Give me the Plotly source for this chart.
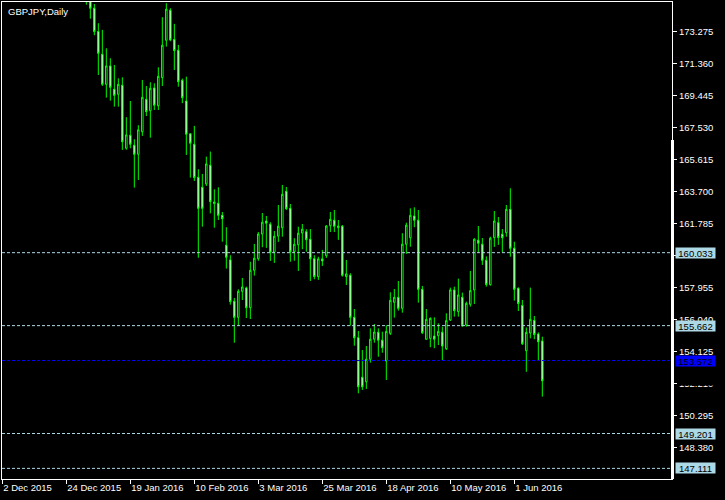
import plotly.graph_objects as go

# ---- data (daily GBPJPY bars, bar index counted from 2 Dec 2015) ----
bar_index = list(range(21, 136))
opens = [176.30, 175.60, 174.68, 173.28, 171.92, 170.12, 171.22, 169.82, 169.52, 170.06,
         166.29, 167.07, 166.47, 165.93, 167.28, 169.22, 168.54, 169.90, 168.84, 170.52,
         172.76, 174.56, 172.80, 172.16, 170.36, 169.12, 167.15, 166.53, 164.55, 163.95,
         164.15, 165.27, 162.97, 162.99, 162.27, 160.48, 159.60, 157.12, 156.16, 157.72,
         157.92, 156.74, 158.98, 159.67, 161.15, 161.93, 161.74, 160.06, 161.03, 161.53,
         163.71, 162.69, 160.09, 160.51, 161.21, 161.29, 160.84, 159.67, 158.60, 159.66,
         159.85, 161.65, 161.98, 161.53, 161.62, 158.60, 158.68, 156.16, 154.94, 152.57,
         152.30, 153.65, 154.85, 155.27, 154.79, 153.54, 155.20, 157.06, 157.36, 156.70,
         160.54, 160.93, 162.23, 161.98, 157.84, 154.85, 154.90, 155.04, 155.06, 155.27,
         154.28, 156.00, 157.80, 156.50, 157.36, 155.70, 156.94, 157.80, 160.78, 160.54,
         159.58, 158.12, 160.94, 161.83, 161.14, 161.23, 162.63, 160.30, 157.90, 156.87,
         154.16, 155.22, 155.97, 155.16, 154.74]
highs = [176.60, 175.90, 174.93, 173.78, 173.38, 172.28, 171.68, 171.28, 170.48, 170.54,
         168.15, 169.12, 166.83, 167.67, 170.38, 170.02, 170.24, 170.18, 171.14, 174.14,
         174.98, 174.68, 173.74, 172.48, 170.46, 170.58, 167.19, 167.63, 165.03, 164.75,
         165.79, 166.09, 163.83, 163.95, 162.47, 161.56, 159.88, 157.32, 157.84, 158.52,
         158.00, 159.49, 160.56, 161.27, 162.41, 162.23, 161.86, 161.33, 162.89, 164.09,
         163.97, 162.95, 160.90, 161.59, 161.75, 161.44, 161.45, 159.88, 159.79, 160.20,
         161.69, 162.47, 162.59, 161.99, 161.69, 159.60, 158.80, 156.66, 155.34, 154.20,
         154.44, 155.50, 155.76, 155.50, 155.30, 155.68, 157.66, 157.86, 158.34, 161.20,
         161.83, 162.69, 162.75, 162.59, 158.04, 156.66, 156.16, 156.16, 155.80, 155.60,
         156.40, 157.94, 158.00, 158.48, 157.64, 157.10, 158.94, 160.90, 161.63, 160.91,
         159.81, 160.99, 162.53, 162.17, 161.45, 162.89, 163.89, 160.69, 157.95, 157.20,
         155.55, 157.94, 156.24, 155.26, 155.00]
lows = [174.89, 174.05, 173.06, 170.68, 170.02, 169.32, 169.14, 168.78, 168.78, 166.19,
        166.20, 166.29, 163.93, 164.39, 167.03, 168.22, 166.92, 168.58, 168.58, 170.02,
        172.38, 172.70, 170.98, 169.98, 168.99, 165.89, 164.53, 164.33, 159.73, 161.59,
        164.03, 162.39, 161.53, 161.99, 160.69, 159.08, 156.92, 154.64, 155.66, 157.20,
        156.12, 156.06, 158.66, 159.55, 160.36, 160.32, 159.54, 159.42, 160.68, 160.99,
        162.59, 159.49, 159.55, 158.94, 160.24, 160.09, 158.34, 158.44, 158.40, 159.24,
        159.72, 161.27, 161.27, 160.80, 158.60, 158.10, 155.66, 154.46, 151.61, 151.81,
        151.87, 153.44, 154.64, 153.80, 154.04, 152.41, 155.10, 156.14, 156.56, 156.44,
        159.96, 160.39, 161.56, 157.04, 155.16, 154.80, 154.37, 154.31, 154.50, 153.60,
        154.20, 155.94, 156.20, 156.20, 155.60, 155.60, 156.80, 156.96, 160.03, 159.30,
        158.00, 158.06, 160.38, 160.50, 160.05, 160.99, 159.79, 157.16, 156.54, 154.50,
        152.90, 154.90, 154.85, 153.60, 151.41]
closes = [175.60, 174.68, 173.28, 171.98, 170.12, 171.22, 169.94, 169.46, 170.12, 166.68,
          167.09, 166.53, 165.93, 167.39, 169.34, 168.48, 169.88, 168.87, 170.60, 172.46,
          174.62, 172.78, 172.14, 170.28, 169.32, 167.13, 166.59, 164.53, 162.69, 162.69,
          165.35, 163.09, 163.07, 162.27, 162.07, 159.76, 157.10, 156.16, 157.72, 157.98,
          156.74, 158.98, 159.70, 161.15, 161.86, 161.80, 160.06, 161.02, 161.62, 163.53,
          162.67, 160.09, 160.54, 161.20, 161.44, 160.81, 159.67, 158.60, 159.66, 159.54,
          161.63, 162.03, 161.62, 161.63, 158.68, 158.76, 156.16, 154.94, 152.00, 152.00,
          153.65, 154.85, 155.28, 154.79, 154.34, 155.32, 157.18, 157.36, 156.70, 160.54,
          161.68, 162.27, 161.98, 157.84, 155.24, 156.04, 156.10, 154.85, 155.32, 154.44,
          155.96, 157.80, 156.56, 157.50, 155.64, 157.00, 157.76, 160.84, 160.60, 159.58,
          158.13, 160.90, 161.93, 160.94, 160.93, 162.63, 160.30, 157.84, 156.99, 154.58,
          155.26, 156.04, 155.13, 154.70, 152.36]

tick_index = [0, 16, 32, 48, 64, 80, 96, 112, 128]
tick_labels = ["2 Dec 2015", "24 Dec 2015", "19 Jan 2016", "10 Feb 2016", "3 Mar 2016",
               "25 Mar 2016", "18 Apr 2016", "10 May 2016", "1 Jun 2016"]
price_ticks = [148.380, 150.295, 152.210, 154.125, 156.040, 157.955, 159.870,
               161.785, 163.700, 165.615, 167.530, 169.445, 171.360, 173.275]
hidden_ticks = [159.870]  # fully covered by the 160.033 level label in the reference
level_prices = [160.033, 155.662, 153.572, 149.201, 147.111]
level_colors = ["#ADD8E6", "#ADD8E6", "#0000FF", "#ADD8E6", "#ADD8E6"]

FONT = "Liberation Sans, Arial, sans-serif"
FS = 9.5
W, H = 725, 500
ML, MR, MT, MB = 2, 53, 2, 21
PW, PH = W - ML - MR, H - MT - MB


def px_x(x):
    return (x - ML) / PW


def px_y(y):
    return (H - MB - y) / PH


fig = go.Figure(go.Candlestick(
    x=bar_index, open=opens, high=highs, low=lows, close=closes,
    increasing=dict(line=dict(color="#00FF00", width=1), fillcolor="#000000"),
    decreasing=dict(line=dict(color="#00FF00", width=1), fillcolor="#FFFFFF"),
    whiskerwidth=0, hoverinfo="skip", showlegend=False,
))

shapes = []
annotations = []
for lv, col in zip(level_prices, level_colors):
    shapes.append(dict(type="line", xref="paper", yref="y", x0=0, x1=1, y0=lv, y1=lv,
                       line=dict(color=col, width=1, dash="3px,2px"), layer="above"))
    annotations.append(dict(xref="paper", yref="y", x=px_x(675), y=lv, xanchor="left",
                            yanchor="middle", text=f"{lv:.3f}", showarrow=False,
                            bgcolor=col, width=37, height=8, borderpad=1, align="center",
                            font=dict(family=FONT, size=FS, color="#000000")))

# thicker part of the right border
shapes.append(dict(type="line", xref="paper", yref="paper", x0=px_x(672.5), x1=px_x(672.5),
                   y0=px_y(140), y1=0, line=dict(color="white", width=3), layer="above"))
# masked price label near 152.210
shapes.append(dict(type="rect", xref="paper", yref="paper", x0=px_x(677), x1=px_x(716),
                   y0=px_y(385.5), y1=px_y(375), fillcolor="black", line=dict(width=0),
                   layer="above"))

annotations.append(dict(xref="paper", yref="paper", x=px_x(6), y=px_y(4), xanchor="left",
                        yanchor="top", text="GBPJPY,Daily", showarrow=False,
                        font=dict(family=FONT, size=FS, color="white")))

fig.update_layout(
    width=W, height=H, margin=dict(l=ML, r=MR, t=MT, b=MB, autoexpand=False),
    paper_bgcolor="black", plot_bgcolor="black", showlegend=False,
    boxgap=0.45,
    xaxis=dict(range=[-0.075, 167.425], rangeslider=dict(visible=False),
               tickmode="array", tickvals=tick_index, ticktext=tick_labels,
               tickangle=0, automargin=False,
               ticks="outside", ticklen=4, tickcolor="white", tickwidth=1,
               showgrid=False, zeroline=False, showline=True, linecolor="white",
               linewidth=1, mirror=True, ticklabelposition="outside right",
               tickfont=dict(family=FONT, size=FS, color="white"), fixedrange=True),
    yaxis=dict(side="right", range=[146.475, 175.05], tickmode="array",
               tickvals=price_ticks, automargin=False,
               ticktext=["" if v in hidden_ticks else f"{v:.3f}" for v in price_ticks],
               ticks="outside", ticklen=4, tickcolor="white", tickwidth=1,
               showgrid=False, zeroline=False, showline=True, linecolor="white",
               linewidth=1, mirror=True,
               tickfont=dict(family=FONT, size=FS, color="white"), fixedrange=True),
    shapes=shapes, annotations=annotations,
)

fig.write_html("out.html", config={"displayModeBar": False, "staticPlot": True},
               post_script="document.body.style.margin='0';")
